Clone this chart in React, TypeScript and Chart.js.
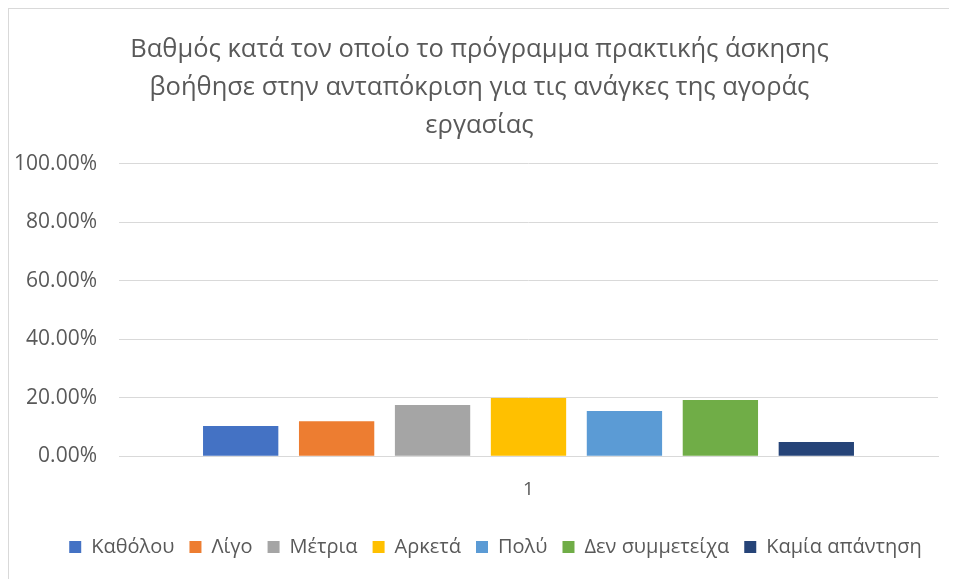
import React, { useEffect, useRef } from "react";
import { Chart, registerables } from "chart.js";

Chart.register(...registerables);

const titleLines = [
  "Βαθμός κατά τον οποίο το πρόγραμμα πρακτικής άσκησης",
  "βοήθησε στην ανταπόκριση για τις ανάγκες της αγοράς",
  "εργασίας",
];
const categories = ["1"];
const seriesNames = ["Καθόλου", "Λίγο", "Μέτρια", "Αρκετά", "Πολύ", "Δεν συμμετείχα", "Καμία απάντηση"];
const seriesValues = [0.103, 0.12, 0.175, 0.199, 0.155, 0.192, 0.049];
const seriesColors = ["#4472C4", "#ED7D31", "#A5A5A5", "#FFC000", "#5B9BD5", "#70AD47", "#264478"];

const FONT = "'Open Sans', 'DejaVu Sans', sans-serif";

const shiftPlugin = {
  id: "shiftBoxes",
  afterLayout(chart: any) {
    const lg = chart.legend;
    if (lg) { lg.left += 22; lg.right += 22; }
    const tt = chart.titleBlock;
    if (tt) { tt.left += 6; tt.right += 6; }
  },
};

export default function App() {
  const ref = useRef<HTMLCanvasElement>(null);
  useEffect(() => {
    if (!ref.current) return;
    const chart = new Chart(ref.current, {
      type: "bar",
      data: {
        labels: categories,
        datasets: seriesNames.map((name, i) => ({
          label: name,
          data: [seriesValues[i]],
          backgroundColor: seriesColors[i],
          borderWidth: 0,
          categoryPercentage: 0.82,
          barPercentage: 0.785,
        })),
      },
      options: {
        animation: false,
        responsive: false,
        maintainAspectRatio: false,
        layout: { padding: { top: 22, left: 0, right: 19, bottom: 12 } },
        plugins: {
          title: {
            display: true,
            text: titleLines,
            color: "#595959",
            font: { family: FONT, size: 25.5, weight: "normal", lineHeight: 1.49 },
            padding: { top: 0, bottom: 19 },
          },
          legend: {
            position: "bottom",
            labels: {
              color: "#595959",
              font: { family: FONT, size: 20 },
              boxWidth: 12,
              boxHeight: 12,
              padding: 15,
            },
          },
          tooltip: { enabled: false },
        },
        scales: {
          x: {
            grid: { display: false, drawTicks: false },
            border: { color: "#d9d9d9", width: 1 },
            ticks: { color: "#595959", font: { family: FONT, size: 19 }, padding: 21.5 },
          },
          y: {
            min: 0,
            max: 1,
            afterFit: (scale: any) => { scale.width = 110; },
            grid: { color: "#d9d9d9", lineWidth: 1, drawTicks: false },
            border: { display: false },
            ticks: {
              stepSize: 0.2,
              color: "#595959",
              font: { family: FONT, size: 21 },
              padding: 22,
              callback: (v: any) => (Number(v) * 100).toFixed(2) + "%",
            },
          },
        },
      },
      plugins: [shiftPlugin],
    });
    return () => chart.destroy();
  }, []);
  return (
    <div style={{ width: 960, height: 580, borderLeft: "1px solid #d9d9d9", borderTop: "1px solid #d9d9d9", background: "#fff" }}>
      <canvas ref={ref} width={948} height={570} />
    </div>
  );
}
